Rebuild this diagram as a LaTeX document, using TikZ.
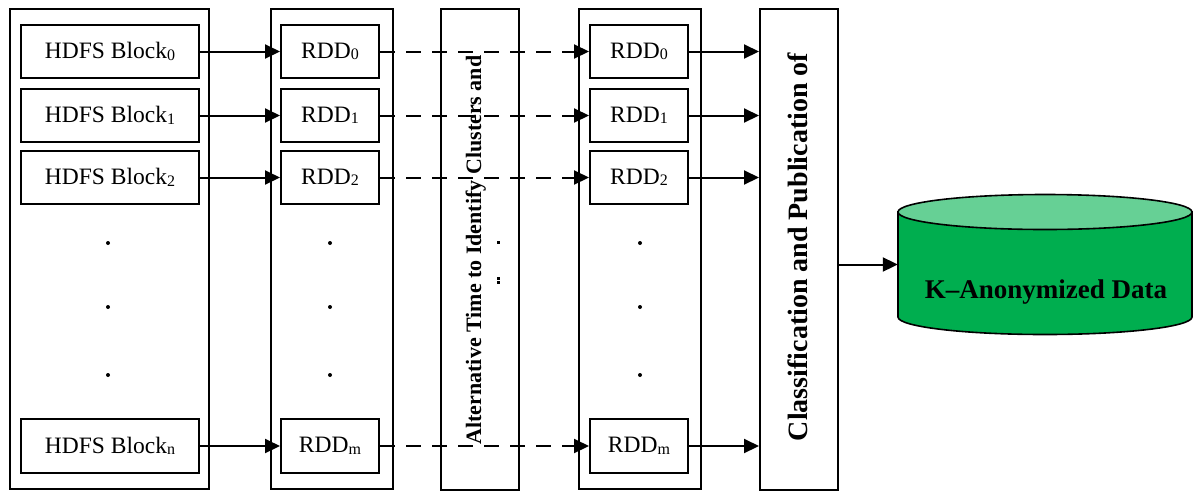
\documentclass[tikz,border=0pt]{standalone}
\usepackage{fontspec}
\setmainfont{Liberation Serif}
\usetikzlibrary{arrows.meta}
\definecolor{dbbody}{HTML}{00AE4F}
\definecolor{dbtop}{HTML}{66D095}
\newcommand\sbs[1]{\raisebox{-1.5pt}{\fontsize{16}{16}\selectfont #1}}
\begin{document}
\begin{tikzpicture}[x=1pt,y=-1pt,
  box/.style={draw, line width=2pt, inner sep=0pt, anchor=north west,
    font=\fontsize{23.5}{23.5}\selectfont},
  arr/.style={-{Triangle[length=15pt,width=14pt]}, line width=2pt},
  dsh/.style={arr, dash pattern=on 15pt off 11pt}]
\useasboundingbox (0,0) rectangle (1193,491);
% column 1
\node[box, minimum width=199pt, minimum height=480pt] (c1) at (9,8) {};
\node[box, minimum width=178pt, minimum height=53pt] (h0) at (20,24) {HDFS Block\sbs{0}};
\node[box, minimum width=178pt, minimum height=53pt] (h1) at (20,88) {HDFS Block\sbs{1}};
\node[box, minimum width=178pt, minimum height=53pt] (h2) at (20,150) {HDFS Block\sbs{2}};
\node[box, minimum width=178pt, minimum height=54pt] (hn) at (20,418) {HDFS Block\sbs{n}};
% column 2
\node[box, minimum width=122pt, minimum height=480pt] (c2) at (270,8) {};
\node[box, minimum width=98pt, minimum height=53pt] (r0) at (280,24) {RDD\sbs{0}};
\node[box, minimum width=98pt, minimum height=53pt] (r1) at (280,88) {RDD\sbs{1}};
\node[box, minimum width=98pt, minimum height=53pt] (r2) at (280,150) {RDD\sbs{2}};
\node[box, minimum width=98pt, minimum height=54pt] (rn) at (280,418) {RDD\sbs{m}};
% column 3
\node[box, minimum width=78pt, minimum height=481pt] (c3) at (440,8) {};
\node[rotate=90, anchor=base, inner sep=0pt, font=\bfseries\fontsize{22}{22}\selectfont] (t3) at (481,250) {Alternative Time to Identify Clusters and};
\fill (496.5,240.5) rectangle (499.5,243.5);
\fill (496.5,277) rectangle (499.5,279.5);
\fill (496.5,281) rectangle (499.5,283.5);
% column 4
\node[box, minimum width=122pt, minimum height=480pt] (c4) at (578,8) {};
\node[box, minimum width=98pt, minimum height=53pt] (s0) at (589,24) {RDD\sbs{0}};
\node[box, minimum width=98pt, minimum height=53pt] (s1) at (589,88) {RDD\sbs{1}};
\node[box, minimum width=98pt, minimum height=53pt] (s2) at (589,150) {RDD\sbs{2}};
\node[box, minimum width=98pt, minimum height=54pt] (sn) at (589,418) {RDD\sbs{m}};
% column 5
\node[box, minimum width=78pt, minimum height=481pt] (c5) at (759,8) {};
\node[rotate=90, anchor=base, inner sep=0pt, font=\bfseries\fontsize{28}{28}\selectfont] (t5) at (807,247) {Classification and Publication of};
% dots
\foreach \yy in {243,307,375}{
  \fill (108,\yy) circle[radius=2pt];
  \fill (330,\yy) circle[radius=2pt];
  \fill (640,\yy) circle[radius=2pt];
}
% database cylinder
\node[inner sep=0pt, minimum width=294pt, minimum height=105pt] (db) at (1045,264.5) {};
\filldraw[fill=dbbody, draw=black, line width=1.6pt]
  (898,212) -- (898,317) .. controls (898,326.67) and (963.8,334.5) .. (1045,334.5)
  .. controls (1126.2,334.5) and (1192,326.67) .. (1192,317) -- (1192,212) -- cycle;
\filldraw[fill=dbtop, draw=black, line width=1.6pt] (1045,212) ellipse [x radius=147pt, y radius=17.5pt];
\node[anchor=base, inner sep=0pt, font=\bfseries\fontsize{27}{27}\selectfont] (dbt) at (1046,298) {K–Anonymized Data};
% connectors
\foreach \i in {0,1,2,n}{
  \draw[arr] (h\i) -- (r\i);
  \draw[dsh] (r\i) -- (s\i);
  \draw[arr] (s\i) -- (s\i -| c5.west);
}
\draw[arr] (c5.east |- db.west) -- (db.west);
\end{tikzpicture}
\end{document}
